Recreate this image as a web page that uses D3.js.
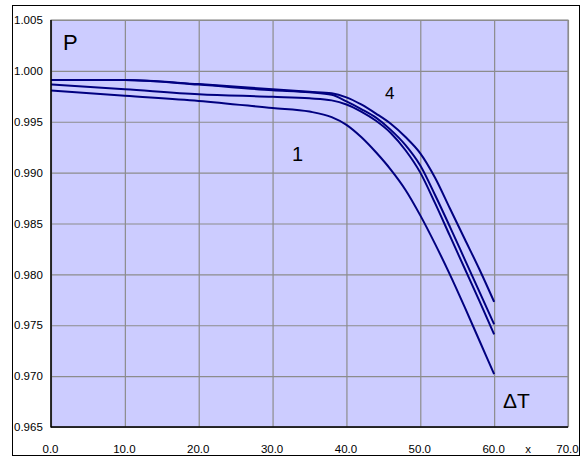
<!DOCTYPE html>
<html>
<head>
<meta charset="utf-8">
<script src="https://cdn.jsdelivr.net/npm/d3@7"></script>
<style>
  body { margin: 0; background: #fff; }
  text { font-family: "Liberation Sans", Arial, sans-serif; }
</style>
</head>
<body>
<div id="chart"></div>
<script>
var w = 583;
var h = 459;

// temperature difference (x axis)
var dT = [0, 10, 20, 30, 35, 38, 40, 42, 44, 46, 48, 50, 52, 54, 56, 58, 60];
// P values, curve 1 is the lowest, curve 4 the highest
var curve1 = [0.99806, 0.99755, 0.99705, 0.99635, 0.9960, 0.99545, 0.9947, 0.9935, 0.9920, 0.9903, 0.9883, 0.9858, 0.9830, 0.9800, 0.9768, 0.9735, 0.9702];
var curve2 = [0.99866, 0.9982, 0.9977, 0.99745, 0.9973, 0.9971, 0.9967, 0.9960, 0.9951, 0.9939, 0.9922, 0.9900, 0.9870, 0.9838, 0.9806, 0.9774, 0.9741];
var curve3 = [0.9991, 0.9991, 0.99865, 0.9981, 0.9979, 0.99765, 0.9970, 0.99625, 0.9954, 0.9942, 0.9927, 0.9907, 0.9878, 0.9847, 0.9815, 0.9783, 0.9751];
var curve4 = [0.9991, 0.9991, 0.9987, 0.9982, 0.99795, 0.9978, 0.9974, 0.9967, 0.9958, 0.9948, 0.9935, 0.9919, 0.9895, 0.9865, 0.9835, 0.9805, 0.9773];

var xTicks = [0, 10, 20, 30, 40, 50, 60, 70];
var yTicks = [0.965, 0.970, 0.975, 0.980, 0.985, 0.990, 0.995, 1.000, 1.005];

var plot = {left: 51, right: 568, top: 20, bottom: 427};

var x = d3.scaleLinear().domain([0, 70]).range([plot.left, plot.right]);
var y = d3.scaleLinear().domain([0.965, 1.005]).range([plot.bottom, plot.top]);

var svg = d3.select("#chart")
            .append("svg")
            .attr("width", w)
            .attr("height", h);

// outer frame
svg.append("rect")
   .attr("x", 12.5).attr("y", 5.5)
   .attr("width", 567).attr("height", 450)
   .attr("fill", "#fff")
   .attr("stroke", "#000")
   .attr("stroke-width", 1);

// plot background
svg.append("rect")
   .attr("x", plot.left).attr("y", plot.top)
   .attr("width", plot.right - plot.left)
   .attr("height", plot.bottom - plot.top)
   .attr("fill", "#ccccff")
   .attr("stroke", "#808080")
   .attr("stroke-width", 1);

// grid
var xGrid = svg.append("g")
   .attr("transform", "translate(0," + plot.bottom + ")")
   .call(d3.axisBottom(x).tickValues(xTicks).tickSize(-(plot.bottom - plot.top)).tickFormat(""));
var yGrid = svg.append("g")
   .attr("transform", "translate(" + plot.left + ",0)")
   .call(d3.axisLeft(y).tickValues(yTicks).tickSize(-(plot.right - plot.left)).tickFormat(""));
svg.selectAll(".tick line").attr("stroke", "#8c8c8c").attr("stroke-width", 1.2);
xGrid.select(".domain").remove();
yGrid.select(".domain").remove();

// curves
var line = d3.line()
   .x(function(d, i) { return x(dT[i]); })
   .y(function(d) { return y(d); })
   .curve(d3.curveMonotoneX);

[curve1, curve2, curve3, curve4].forEach(function(c) {
   svg.append("path")
      .attr("d", line(c))
      .attr("fill", "none")
      .attr("stroke", "#000080")
      .attr("stroke-width", 2);
});

// axis lines
svg.append("line")
   .attr("x1", plot.left).attr("x2", plot.left)
   .attr("y1", plot.top).attr("y2", plot.bottom + 0.5)
   .attr("stroke", "#000").attr("stroke-width", 1.5);
svg.append("line")
   .attr("x1", plot.left).attr("x2", plot.right)
   .attr("y1", plot.bottom).attr("y2", plot.bottom)
   .attr("stroke", "#000").attr("stroke-width", 1.5);

// tick labels
var xAxis = svg.append("g")
   .attr("transform", "translate(-1," + plot.bottom + ")")
   .call(d3.axisBottom(x).tickValues(xTicks).tickSize(0).tickPadding(18).tickFormat(d3.format(".1f")));
xAxis.select(".domain").remove();
xAxis.selectAll("text").attr("font-size", 11.5).attr("fill", "#000")
   .attr("font-family", "Liberation Sans, Arial, sans-serif");

var yAxis = svg.append("g")
   .attr("transform", "translate(" + plot.left + ",0)")
   .call(d3.axisLeft(y).tickValues(yTicks).tickSize(0).tickFormat(d3.format(".3f")));
yAxis.select(".domain").remove();
yAxis.selectAll("text")
   .attr("text-anchor", "start")
   .attr("x", 14 - plot.left)
   .attr("font-size", 11.5).attr("fill", "#000")
   .attr("font-family", "Liberation Sans, Arial, sans-serif");

// axis name and curve labels
svg.append("text").attr("x", x(64.6)).attr("y", 453)
   .attr("text-anchor", "middle").attr("font-size", 11.5).text("x");
svg.append("text").attr("x", 63).attr("y", 50)
   .attr("font-size", 22).text("P");
svg.append("text").attr("x", 503).attr("y", 408)
   .attr("font-size", 21).text("ΔT");
svg.append("text").attr("x", 292).attr("y", 161)
   .attr("font-size", 20).text("1");
svg.append("text").attr("x", 385).attr("y", 99)
   .attr("font-size", 17).text("4");
</script>
</body>
</html>
